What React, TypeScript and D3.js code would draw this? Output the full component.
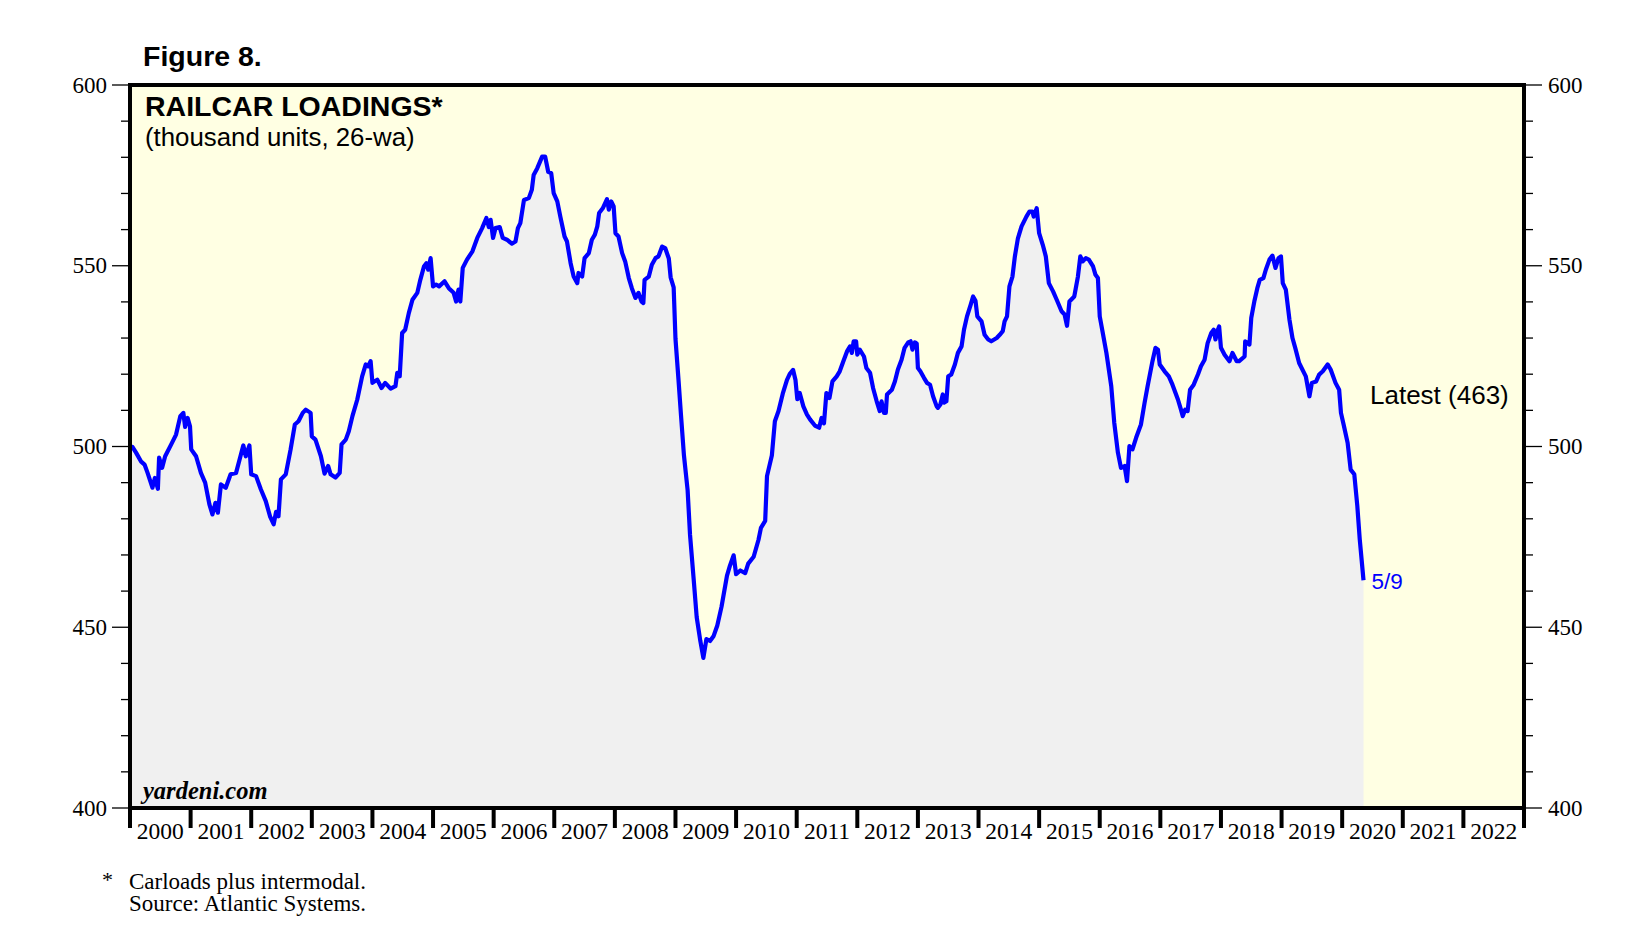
import React from "react";
import * as d3 from "d3";

const weeks: number[] = [
  2000.00, 2000.04, 2000.10, 2000.18, 2000.24, 2000.29, 2000.37, 2000.41, 2000.46, 2000.48,
  2000.53, 2000.58, 2000.68, 2000.76, 2000.83, 2000.88, 2000.91, 2000.95, 2000.99, 2001.01,
  2001.09, 2001.17, 2001.24, 2001.31, 2001.36, 2001.41, 2001.45, 2001.50, 2001.58, 2001.66,
  2001.75, 2001.83, 2001.87, 2001.91, 2001.97, 2002.00, 2002.08, 2002.16, 2002.24, 2002.31,
  2002.37, 2002.41, 2002.45, 2002.49, 2002.57, 2002.65, 2002.72, 2002.78, 2002.85, 2002.90,
  2002.98, 2003.00, 2003.06, 2003.15, 2003.21, 2003.27, 2003.31, 2003.39, 2003.46, 2003.49,
  2003.56, 2003.61, 2003.67, 2003.75, 2003.83, 2003.89, 2003.93, 2003.97, 2004.00, 2004.08,
  2004.15, 2004.21, 2004.30, 2004.38, 2004.41, 2004.45, 2004.49, 2004.54, 2004.60, 2004.66,
  2004.74, 2004.79, 2004.85, 2004.89, 2004.92, 2004.96, 2005.00, 2005.05, 2005.10, 2005.19,
  2005.26, 2005.34, 2005.38, 2005.42, 2005.45, 2005.49, 2005.56, 2005.65, 2005.73, 2005.81,
  2005.88, 2005.92, 2005.95, 2005.99, 2006.03, 2006.10, 2006.15, 2006.22, 2006.30, 2006.36,
  2006.40, 2006.44, 2006.50, 2006.58, 2006.63, 2006.66, 2006.72, 2006.80, 2006.85, 2006.90,
  2006.95, 2006.99, 2007.05, 2007.10, 2007.17, 2007.21, 2007.27, 2007.32, 2007.38, 2007.40,
  2007.46, 2007.50, 2007.57, 2007.62, 2007.67, 2007.71, 2007.74, 2007.80, 2007.87, 2007.90,
  2007.94, 2007.98, 2008.01, 2008.06, 2008.12, 2008.17, 2008.23, 2008.28, 2008.34, 2008.39,
  2008.44, 2008.47, 2008.49, 2008.56, 2008.61, 2008.67, 2008.72, 2008.78, 2008.83, 2008.89,
  2008.92, 2008.97, 2009.00, 2009.05, 2009.09, 2009.14, 2009.20, 2009.24, 2009.30, 2009.35,
  2009.41, 2009.46, 2009.51, 2009.57, 2009.63, 2009.69, 2009.76, 2009.85, 2009.90, 2009.96,
  2010.00, 2010.07, 2010.15, 2010.20, 2010.29, 2010.37, 2010.41, 2010.48, 2010.51, 2010.59,
  2010.64, 2010.70, 2010.77, 2010.84, 2010.89, 2010.94, 2010.98, 2011.01, 2011.05, 2011.11,
  2011.17, 2011.22, 2011.30, 2011.37, 2011.41, 2011.45, 2011.49, 2011.54, 2011.59, 2011.66,
  2011.71, 2011.77, 2011.83, 2011.88, 2011.91, 2011.94, 2011.98, 2012.00, 2012.04, 2012.11,
  2012.15, 2012.21, 2012.26, 2012.32, 2012.37, 2012.40, 2012.44, 2012.47, 2012.49, 2012.57,
  2012.62, 2012.67, 2012.73, 2012.78, 2012.84, 2012.88, 2012.91, 2012.95, 2012.98, 2013.00,
  2013.04, 2013.10, 2013.15, 2013.20, 2013.25, 2013.31, 2013.33, 2013.37, 2013.41, 2013.43,
  2013.47, 2013.50, 2013.55, 2013.61, 2013.66, 2013.72, 2013.76, 2013.81, 2013.87, 2013.91,
  2013.95, 2013.98, 2014.05, 2014.10, 2014.16, 2014.21, 2014.30, 2014.35, 2014.40, 2014.43,
  2014.47, 2014.51, 2014.56, 2014.60, 2014.65, 2014.71, 2014.79, 2014.84, 2014.89, 2014.91,
  2014.96, 2015.00, 2015.06, 2015.11, 2015.16, 2015.23, 2015.29, 2015.37, 2015.42, 2015.46,
  2015.50, 2015.58, 2015.64, 2015.68, 2015.72, 2015.77, 2015.82, 2015.89, 2015.93, 2015.97,
  2016.00, 2016.05, 2016.11, 2016.19, 2016.24, 2016.30, 2016.35, 2016.41, 2016.45, 2016.49,
  2016.54, 2016.60, 2016.68, 2016.74, 2016.79, 2016.87, 2016.92, 2016.96, 2016.99, 2017.07,
  2017.14, 2017.20, 2017.29, 2017.34, 2017.37, 2017.41, 2017.45, 2017.49, 2017.55, 2017.62,
  2017.67, 2017.73, 2017.78, 2017.84, 2017.88, 2017.91, 2017.94, 2017.97, 2018.00, 2018.06,
  2018.14, 2018.19, 2018.26, 2018.30, 2018.39, 2018.40, 2018.47, 2018.50, 2018.55, 2018.60,
  2018.64, 2018.70, 2018.74, 2018.80, 2018.85, 2018.90, 2018.95, 2018.99, 2019.02, 2019.07,
  2019.13, 2019.18, 2019.23, 2019.29, 2019.40, 2019.46, 2019.50, 2019.57, 2019.62, 2019.68,
  2019.76, 2019.81, 2019.89, 2019.95, 2019.98, 2020.03, 2020.09, 2020.14, 2020.20, 2020.25,
  2020.29, 2020.352,
];

// Railcar loadings, thousand units, 26-week average
const loadings: number[] = [
  499.7, 499.9, 498.3, 495.9, 495.0, 492.7, 488.6, 491.3, 488.3, 496.9,
  494.1, 497.3, 500.6, 503.3, 508.4, 509.3, 505.4, 507.9, 505.6, 499.2,
  497.3, 492.7, 490.0, 484.0, 481.2, 484.4, 481.7, 489.5, 488.6, 492.3,
  492.7, 497.8, 500.3, 497.3, 500.3, 492.3, 491.8, 488.1, 484.9, 480.7,
  478.5, 481.9, 480.7, 490.9, 492.3, 499.2, 506.1, 507.0, 509.3, 510.2,
  509.3, 502.8, 501.9, 497.3, 492.5, 494.6, 492.3, 491.4, 492.7, 500.6,
  501.9, 504.2, 508.4, 513.0, 519.4, 522.7, 522.2, 523.6, 517.6, 518.5,
  516.2, 517.6, 516.0, 516.7, 520.4, 519.4, 531.4, 532.3, 536.9, 540.6,
  542.5, 546.1, 549.8, 550.7, 548.9, 552.1, 544.3, 544.8, 544.3, 545.7,
  543.8, 542.5, 540.1, 543.4, 540.1, 549.4, 551.7, 554.0, 557.7, 560.4,
  563.2, 560.7, 562.7, 557.7, 560.4, 560.7, 557.7, 557.2, 556.1, 556.7,
  560.4, 561.8, 568.2, 568.7, 571.0, 575.1, 577.0, 580.2, 580.2, 576.0,
  575.6, 570.1, 567.8, 563.6, 558.1, 556.7, 550.7, 547.0, 545.2, 548.0,
  547.0, 552.1, 553.5, 557.2, 558.6, 560.9, 564.6, 565.9, 568.4, 565.5,
  567.8, 566.4, 559.0, 558.1, 553.5, 551.2, 546.6, 543.8, 541.1, 542.5,
  540.1, 539.7, 546.1, 547.0, 550.3, 552.1, 552.6, 555.3, 554.9, 552.0,
  546.8, 544.0, 529.8, 518.4, 508.9, 497.5, 488.0, 475.6, 463.3, 452.8,
  446.2, 441.5, 446.7, 446.2, 447.6, 450.5, 455.7, 464.3, 467.1, 469.9,
  464.7, 465.7, 465.0, 467.6, 469.5, 474.2, 477.5, 479.4, 491.8, 497.5,
  507.0, 509.8, 514.6, 518.4, 520.2, 521.2, 518.4, 513.1, 514.8, 511.1,
  508.8, 507.5, 505.8, 505.2, 507.9, 506.4, 514.8, 513.4, 518.0, 519.4,
  520.8, 523.6, 526.3, 527.7, 525.9, 529.1, 529.1, 525.4, 526.8, 524.9,
  521.7, 520.4, 516.2, 512.5, 509.8, 512.5, 509.3, 509.3, 514.4, 515.7,
  518.0, 521.3, 524.0, 527.3, 528.8, 529.1, 526.8, 528.8, 528.5, 521.7,
  520.8, 519.0, 517.6, 517.1, 513.9, 511.1, 510.7, 511.6, 514.4, 512.1,
  512.5, 519.4, 519.9, 522.7, 525.9, 527.7, 532.3, 536.0, 539.2, 541.5,
  540.3, 536.0, 534.6, 530.9, 529.6, 529.1, 530.0, 530.9, 531.9, 534.6,
  536.0, 544.3, 547.0, 552.6, 557.6, 560.9, 563.6, 565.0, 565.0, 563.6,
  565.9, 559.0, 555.8, 552.6, 545.2, 542.9, 540.6, 537.4, 536.5, 533.4,
  540.1, 541.5, 547.0, 552.6, 551.2, 552.1, 551.7, 549.8, 547.5, 546.6,
  536.0, 531.4, 525.9, 516.7, 506.5, 498.3, 494.1, 494.6, 490.4, 500.1,
  499.2, 502.4, 506.1, 512.1, 516.7, 523.6, 527.3, 526.8, 522.7, 520.8,
  519.4, 517.1, 513.0, 510.2, 508.4, 510.2, 509.8, 515.7, 517.1, 519.9,
  522.2, 524.0, 528.6, 531.4, 532.3, 529.6, 531.9, 533.2, 527.3, 525.4,
  523.6, 525.9, 523.6, 523.6, 524.9, 529.1, 528.2, 535.6, 540.1, 543.8,
  546.1, 546.6, 548.9, 551.7, 552.8, 549.4, 552.1, 552.6, 545.2, 543.4,
  535.1, 530.0, 527.0, 523.1, 519.4, 513.9, 517.6, 518.0, 519.9, 520.8,
  522.7, 521.3, 517.6, 515.7, 509.3, 505.6, 501.0, 493.6, 492.3, 483.5,
  474.3, 463.0,
];

const yearLabels: number[] = d3.range(2000, 2023);
const yMajorTicks: number[] = [400, 450, 500, 550, 600];
const yMinorTicks: number[] = d3.range(400, 601, 10);
const latestValue = 463;
const latestDate = "5/9";

export default function App() {
  const W = 1645, H = 928;
  const left = 130, right = 1524, top = 85, bottom = 808;
  const x = d3.scaleLinear().domain([2000, 2023]).range([left, right]);
  const y = d3.scaleLinear().domain([400, 600]).range([bottom, top]);
  const pts = weeks.map((w, i) => [w, loadings[i]] as [number, number]);
  const line = d3.line<[number, number]>().x(d => x(d[0])).y(d => y(d[1]))(pts) || "";
  const area = d3.area<[number, number]>().x(d => x(d[0])).y0(bottom).y1(d => y(d[1]))(pts) || "";
  const last = pts[pts.length - 1];
  const serif = "'Liberation Serif', 'Times New Roman', serif";
  const sans = "'Liberation Sans', Arial, sans-serif";

  return (
    <svg width={W} height={H} style={{ position: "absolute", left: 0, top: 0, background: "#fff" }}>
      <defs>
        <clipPath id="plotclip">
          <rect x={left} y={top} width={right - left} height={bottom - top} />
        </clipPath>
      </defs>
      <text x={143} y={66} fontFamily={sans} fontWeight="bold" fontSize={28.5} fill="#000">Figure 8.</text>
      <rect x={left} y={top} width={right - left} height={bottom - top} fill="#FFFFE3" />
      <g clipPath="url(#plotclip)">
        <path d={area} fill="#F0F0F0" />
        <path d={line} fill="none" stroke="#0000FF" strokeWidth={4.2} strokeLinejoin="round" />
      </g>
      {yMinorTicks.map(v => (
        <line key={"lm" + v} x1={left - (v % 50 === 0 ? 18 : 9)} x2={left} y1={y(v)} y2={y(v)} stroke="#000" strokeWidth={1.3} />
      ))}
      {yMinorTicks.map(v => (
        <line key={"rm" + v} x1={right} x2={right + (v % 50 === 0 ? 18 : 9)} y1={y(v)} y2={y(v)} stroke="#000" strokeWidth={1.3} />
      ))}
      {yMajorTicks.map(v => (
        <text key={"ll" + v} x={107} y={y(v) + 7.5} textAnchor="end" fontFamily={serif} fontSize={23} fill="#000">{v}</text>
      ))}
      {yMajorTicks.map(v => (
        <text key={"rl" + v} x={1548} y={y(v) + 7.5} textAnchor="start" fontFamily={serif} fontSize={23} fill="#000">{v}</text>
      ))}
      {d3.range(2000, 2024).map(yr => (
        <line key={"xt" + yr} x1={x(yr)} x2={x(yr)} y1={bottom} y2={bottom + 20} stroke="#000" strokeWidth={4} />
      ))}
      {yearLabels.map(yr => (
        <text key={"xl" + yr} x={x(yr + 0.5)} y={839} textAnchor="middle" fontFamily={serif} fontSize={23.5} fill="#000">{yr}</text>
      ))}
      <rect x={left} y={top} width={right - left} height={bottom - top} fill="none" stroke="#000" strokeWidth={4} />
      <text x={145} y={116} fontFamily={sans} fontWeight="bold" fontSize={28.5} fill="#000">RAILCAR LOADINGS*</text>
      <text x={145} y={146} fontFamily={sans} fontSize={25.8} fill="#000">(thousand units, 26-wa)</text>
      <text x={1370} y={404} fontFamily={sans} fontSize={26} fill="#000">{`Latest (${latestValue})`}</text>
      <text x={x(last[0]) + 8} y={589} fontFamily={sans} fontSize={22.5} fill="#0000FF">{latestDate}</text>
      <text x={143} y={799} fontFamily={serif} fontStyle="italic" fontWeight="bold" fontSize={24.5} fill="#000">yardeni.com</text>
      <text x={102} y={887} fontFamily={serif} fontSize={22} fill="#000">*</text>
      <text x={129} y={889} fontFamily={serif} fontSize={23} fill="#000">Carloads plus intermodal.</text>
      <text x={129} y={911} fontFamily={serif} fontSize={23} fill="#000">Source: Atlantic Systems.</text>
    </svg>
  );
}
